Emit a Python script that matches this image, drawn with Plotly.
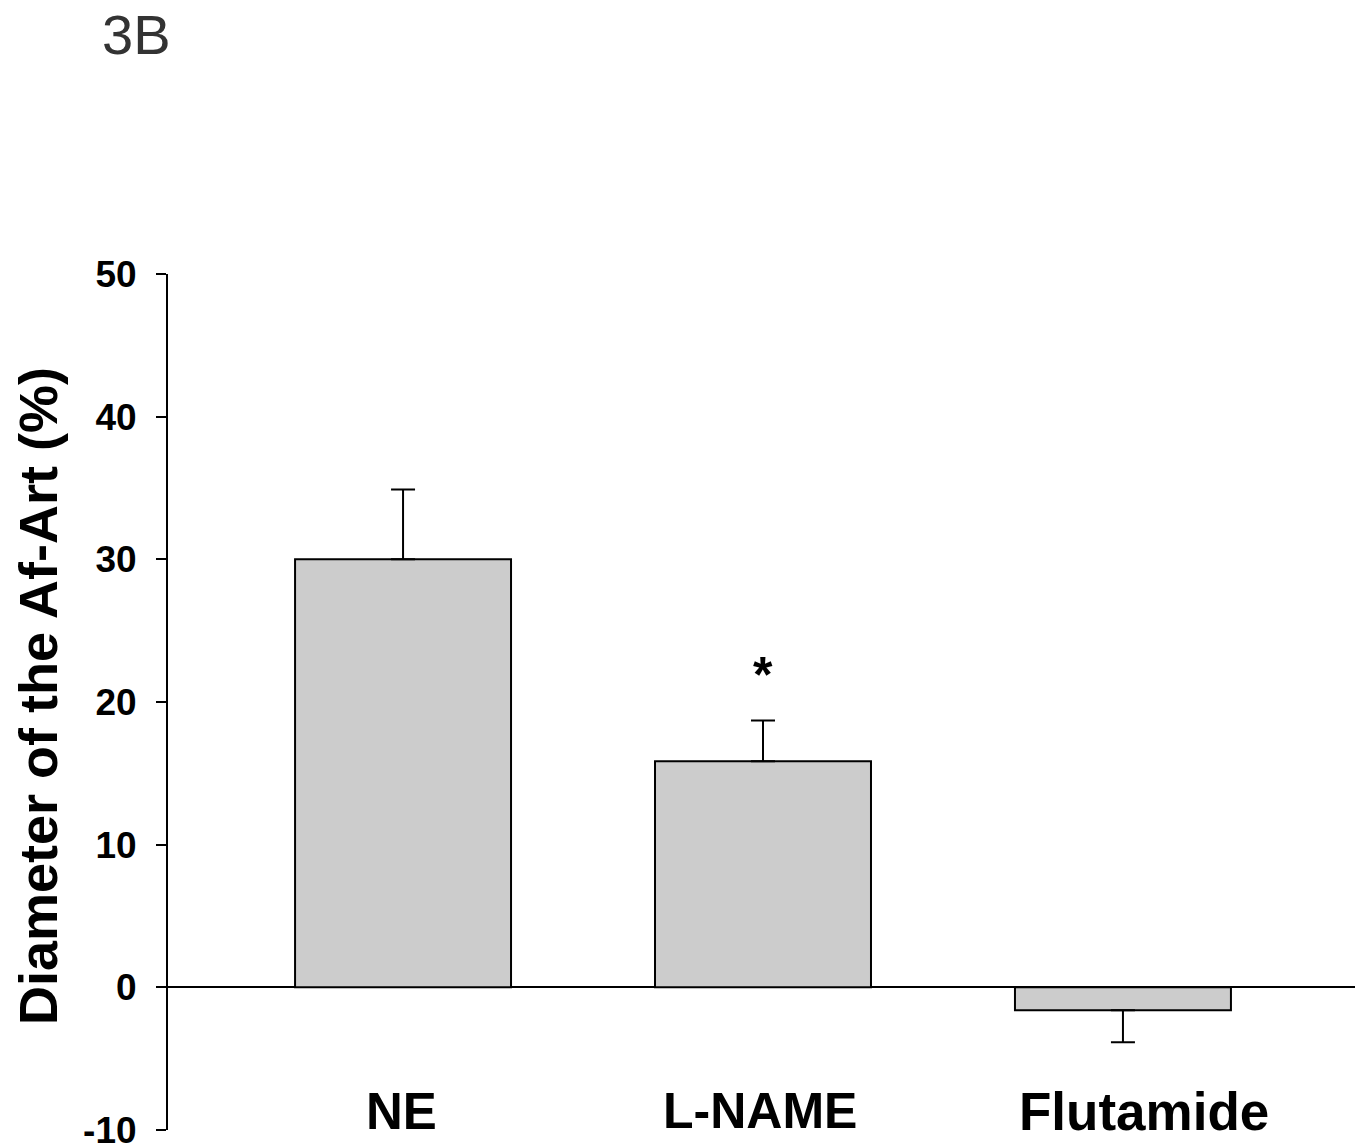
import plotly.graph_objects as go

categories = ["NE", "L-NAME", "Flutamide"]
values = [30.0, 15.85, -1.6]
err_plus = [4.9, 2.85, 0.0]
err_minus = [0.0, 0.0, 2.25]
y_ticks = [-10, 0, 10, 20, 30, 40, 50]
sig_marks = ["", "*", ""]
sig_y = [None, 21.9, None]

FONT = "Arial, Liberation Sans, sans-serif"

# page body has an 8px margin; plot area target: x 168..1358, y 274..1130
L, R, T, B = 160, 13, 266, 26
PW, PH = 1190, 856
label_shift = [-2, -3, 21]
label_size = [51, 50, 53]

fig = go.Figure()
fig.add_trace(go.Bar(
    x=categories, y=values, width=0.6,
    marker=dict(color="#cccccc", line=dict(color="black", width=2)),
    error_y=dict(type="data", symmetric=False, array=err_plus, arrayminus=err_minus,
                 color="black", thickness=2, width=12),
    showlegend=False,
))

annotations = []
for c, sh, fs in zip(categories, label_shift, label_size):
    annotations.append(dict(x=c, y=-8.7, xref="x", yref="y", text="<b>%s</b>" % c,
                            showarrow=False, xshift=sh,
                            font=dict(family=FONT, size=fs, color="black"),
                            yanchor="middle", xanchor="center"))
for c, m, yy in zip(categories, sig_marks, sig_y):
    if m:
        annotations.append(dict(x=c, y=yy, xref="x", yref="y", text="<b>%s</b>" % m,
                                showarrow=False, font=dict(family=FONT, size=50, color="black"),
                                yanchor="middle", xanchor="center"))
annotations.append(dict(x=(38 - 168) / PW, y=(1130 - 696) / PH, xref="paper", yref="paper",
                        text="<b>Diameter of the Af-Art (%)</b>", textangle=-90,
                        showarrow=False, font=dict(family=FONT, size=54, color="black"),
                        xanchor="center", yanchor="middle"))
annotations.append(dict(x=(101 - 168) / PW, y=(1130 - 35) / PH, xref="paper", yref="paper",
                        text="3B", showarrow=False, borderpad=0,
                        font=dict(family=FONT, size=56, color="#333333"),
                        xanchor="left", yanchor="middle"))

fig.update_layout(
    width=1363, height=1148,
    margin=dict(l=L, r=R, t=T, b=B, autoexpand=False),
    paper_bgcolor="white", plot_bgcolor="white",
    font=dict(family=FONT, color="black"),
    annotations=annotations,
)
fig.update_xaxes(range=[-0.653, 2.653], showline=False, showticklabels=False,
                 ticks="", showgrid=False, zeroline=False)
fig.update_yaxes(range=[-10, 50], tickvals=y_ticks, ticktext=[str(v) for v in y_ticks],
                 showline=True, linecolor="black", linewidth=2,
                 ticks="outside", ticklen=10, tickwidth=2, tickcolor="black",
                 tickfont=dict(family=FONT, size=37, color="black", weight="bold"),
                 ticklabelstandoff=12, ticklabeloverflow="allow",
                 showgrid=False, zeroline=True, zerolinecolor="black", zerolinewidth=2)

fig.write_html("out.html")
